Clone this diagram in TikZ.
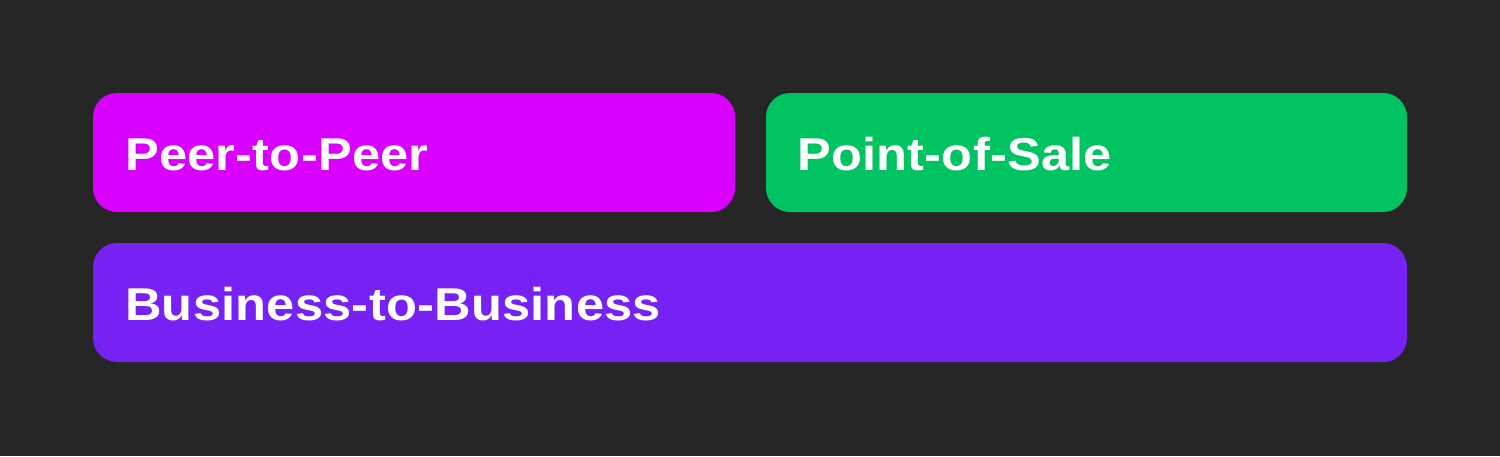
\documentclass[tikz,border=0pt]{standalone}
\usepackage{fontspec}
\setmainfont{Liberation Sans}
\newfontfamily\lblfont[FakeStretch=1.1,LetterSpace=0.5]{Liberation Sans}
\definecolor{bg}{HTML}{262626}
\definecolor{pmag}{HTML}{D900FF}
\definecolor{pgreen}{HTML}{00C462}
\definecolor{ppurple}{HTML}{7722F4}
\begin{document}
\begin{tikzpicture}[x=1pt,y=-1pt,
  tile/.style={rounded corners=24pt},
  lbl/.style={anchor=base west,inner sep=0pt,text=white,font=\lblfont\fontsize{46}{50}\selectfont\bfseries}]
\fill[bg] (0,0) rectangle (1500,456);
\useasboundingbox (0,0) rectangle (1500,456);
\fill[pmag,tile] (93,93) rectangle (735,212);
\fill[pgreen,tile] (766,93) rectangle (1407,212);
\fill[ppurple,tile] (93,243) rectangle (1407,362);
\node[lbl] (p2p) at (125,170) {Peer-to-Peer};
\node[lbl] (pos) at (797,170) {Point-of-Sale};
\node[lbl] (b2b) at (125,320) {Business-to-Business};
\end{tikzpicture}
\end{document}
